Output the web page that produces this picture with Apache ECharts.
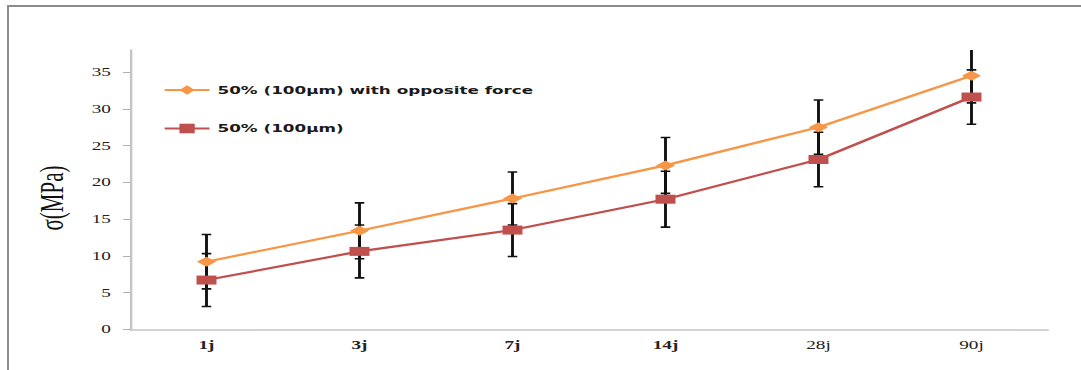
<!DOCTYPE html>
<html>
<head>
<meta charset="utf-8">
<script src="https://cdn.jsdelivr.net/npm/echarts@6/dist/echarts.min.js"></script>
<style>
  html, body { margin: 0; padding: 0; background: #fff; }
  body { width: 1081px; height: 370px; position: relative; overflow: hidden; }
  #frame { position: absolute; left: 7px; top: 5px; width: 1100px; height: 400px;
           border-top: 2px solid #8c8c8c; border-left: 2px solid #8c8c8c; }
  #chart { position: absolute; left: 0; top: 0; width: 676px; height: 370px;
           transform: scaleX(1.599); transform-origin: 0 0; }
</style>
</head>
<body>
<div id="frame"></div>
<div id="chart"></div>
<script>
// ---- data ----
const categories = ['1j', '3j', '7j', '14j', '28j', '90j'];
const seriesNames = ['50% (100µm) with opposite force', '50% (100µm)'];
const withOpposite = [9.2, 13.4, 17.8, 22.3, 27.5, 34.5];
const withOppositeErr = [3.7, 3.8, 3.6, 3.8, 3.7, 3.7];
const plain = [6.7, 10.6, 13.5, 17.7, 23.1, 31.6];
const plainErr = [3.6, 3.6, 3.6, 3.8, 3.7, 3.7];
const yTickValues = [0, 5, 10, 15, 20, 25, 30, 35];
const yAxisTitle = 'σ(MPa)';

function errData(vals, errs) {
  return vals.map((v, i) => [i, v - errs[i], v + errs[i]]);
}

function errRender(params, api) {
  const x = api.value(0);
  const lo = api.coord([x, api.value(1)]);
  const hi = api.coord([x, api.value(2)]);
  const hw = 3;
  const style = { stroke: '#111', lineWidth: 1.8, fill: null };
  const capStyle = { stroke: '#111', lineWidth: 1.6, fill: null };
  return {
    type: 'group',
    children: [
      { type: 'line', shape: { x1: hi[0], y1: hi[1], x2: lo[0], y2: lo[1] }, style: style },
      { type: 'line', shape: { x1: hi[0] - hw, y1: hi[1], x2: hi[0] + hw, y2: hi[1] }, style: capStyle },
      { type: 'line', shape: { x1: lo[0] - hw, y1: lo[1], x2: lo[0] + hw, y2: lo[1] }, style: capStyle }
    ]
  };
}

const serif = "'Liberation Serif', 'Times New Roman', serif";
const chart = echarts.init(document.getElementById('chart'), null, { renderer: 'svg' });
chart.setOption({
  animation: false,
  backgroundColor: 'transparent',
  grid: { left: 81.3, right: 20.6, top: 50, bottom: 40.7, containLabel: false },
  legend: {
    orient: 'vertical',
    left: 102,
    top: 84.5,
    padding: 0,
    itemWidth: 28,
    itemHeight: 12,
    itemGap: 27.5,
    data: seriesNames,
    textStyle: { fontFamily: 'DejaVu Sans', fontWeight: 'bold', fontSize: 10.5, color: '#1a1a1a' }
  },
  graphic: [{
    type: 'text',
    x: 32.5,
    y: 198,
    rotation: Math.PI / 2,
    style: {
      text: yAxisTitle,
      fontFamily: serif,
      fontSize: 21,
      fill: '#111',
      textAlign: 'center',
      textVerticalAlign: 'middle'
    }
  }],
  xAxis: {
    type: 'category',
    data: categories,
    boundaryGap: true,
    axisLine: { lineStyle: { color: '#c4c4c4', width: 1.5 } },
    axisTick: { alignWithLabel: true, length: 4, lineStyle: { color: '#b0b0b0', width: 1 } },
    axisLabel: {
      margin: 10,
      fontFamily: serif,
      fontSize: 12,
      color: '#222',
      formatter: (v, i) => (i < 4 ? '{b|' + v + '}' : v),
      rich: { b: { fontFamily: serif, fontSize: 12, fontWeight: 'bold', color: '#222' } }
    },
    splitLine: { show: false }
  },
  yAxis: {
    type: 'value',
    min: 0,
    max: 38,
    interval: 5,
    axisLine: { show: true, lineStyle: { color: '#c4c4c4', width: 1.5 } },
    axisTick: { show: true, length: 4.4, customValues: yTickValues, lineStyle: { color: '#b0b0b0', width: 1 } },
    axisLabel: {
      margin: 12,
      customValues: yTickValues,
      fontFamily: serif,
      fontSize: 12,
      color: '#222'
    },
    splitLine: { show: false }
  },
  series: [
    {
      type: 'custom',
      name: 'err1',
      renderItem: errRender,
      data: errData(withOpposite, withOppositeErr),
      encode: { x: 0, y: [1, 2] },
      clip: true,
      z: 1,
      silent: true
    },
    {
      type: 'custom',
      name: 'err2',
      renderItem: errRender,
      data: errData(plain, plainErr),
      encode: { x: 0, y: [1, 2] },
      clip: true,
      z: 1,
      silent: true
    },
    {
      type: 'line',
      name: seriesNames[0],
      data: withOpposite,
      z: 3,
      symbol: 'diamond',
      symbolSize: [12, 10],
      itemStyle: { color: '#F79646' },
      lineStyle: { color: '#F79646', width: 2.2 }
    },
    {
      type: 'line',
      name: seriesNames[1],
      data: plain,
      z: 3,
      symbol: 'rect',
      symbolSize: [12.5, 9],
      itemStyle: { color: '#C0504D' },
      lineStyle: { color: '#C0504D', width: 2.2 }
    }
  ]
});
</script>
</body>
</html>
